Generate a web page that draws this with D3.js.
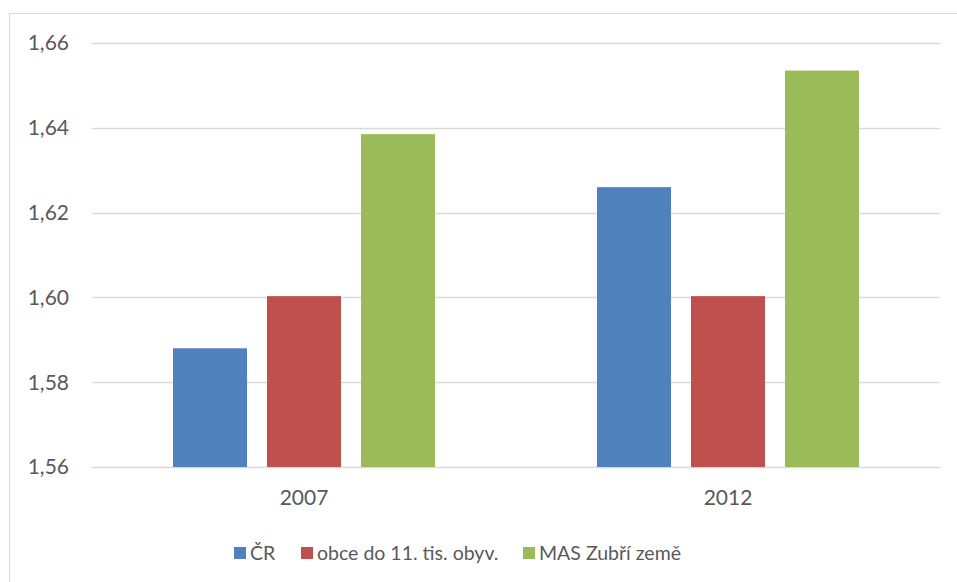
<!DOCTYPE html>
<html>
<head>
<meta charset="utf-8">
<script src="https://cdn.jsdelivr.net/npm/d3@7"></script>
<style>
  body { margin: 0; background: #fff; }
  svg text { font-family: Lato, "Open Sans", sans-serif; fill: #595959; }
</style>
</head>
<body>
<svg id="chart"></svg>
<script>
// data
const years = ['2007', '2012']
const seriesNames = ['ČR', 'obce do 11. tis. obyv.', 'MAS Zubří země']
const valuesCR = [1.588, 1.626]
const valuesObce = [1.6003, 1.6003]
const valuesMAS = [1.6385, 1.6535]
const yTicks = [1.56, 1.58, 1.60, 1.62, 1.64, 1.66]
const colors = ['#4F81BD', '#C0504D', '#9BBB59']

const width = 957
const height = 582
const margin = { top: 43, right: 17, bottom: 115, left: 92 }

const svg = d3.select('#chart')
    .attr('width', width)
    .attr('height', height)

// chart frame (cut off on the right and at the bottom)
svg.append('rect')
    .attr('x', 9.5).attr('y', 13.5)
    .attr('width', 1000).attr('height', 1000)
    .attr('fill', 'none')
    .attr('stroke', '#D9D9D9')

const x0 = d3.scaleBand()
    .domain(years)
    .range([margin.left, width - margin.right])

const x1 = d3.scaleBand()
    .domain(seriesNames)
    .range([81, 424 - 81])
    .paddingInner(20 / 94)

const y = d3.scaleLinear()
    .domain([1.56, 1.66])
    .range([height - margin.bottom, margin.top])

const fmt = d => d3.format('.2f')(d).replace('.', ',')

// grid
svg.append('g')
    .selectAll('line')
    .data(yTicks)
    .join('line')
    .attr('x1', margin.left)
    .attr('x2', width - margin.right)
    .attr('y1', d => Math.round(y(d)) + 0.5)
    .attr('y2', d => Math.round(y(d)) + 0.5)
    .attr('stroke', '#D9D9D9')
    .attr('stroke-width', 1.5)

// y labels
svg.append('g')
    .selectAll('text')
    .data(yTicks)
    .join('text')
    .attr('x', 69)
    .attr('y', d => y(d))
    .attr('dy', '0.35em')
    .attr('text-anchor', 'end')
    .style('font-size', '21px')
    .text(fmt)

const series = [valuesCR, valuesObce, valuesMAS]
const rows = years.map((yr, i) => ({
    year: yr,
    vals: seriesNames.map((s, j) => ({ name: s, value: series[j][i], color: colors[j] }))
}))

const groups = svg.append('g')
    .selectAll('g')
    .data(rows)
    .join('g')
    .attr('transform', d => `translate(${x0(d.year)},0)`)

groups.selectAll('rect')
    .data(d => d.vals)
    .join('rect')
    .attr('x', d => x1(d.name))
    .attr('width', x1.bandwidth())
    .attr('y', d => y(d.value))
    .attr('height', d => y(1.56) - y(d.value))
    .attr('fill', d => d.color)

// x labels
svg.append('g')
    .selectAll('text')
    .data(years)
    .join('text')
    .attr('x', d => x0(d) + x0.bandwidth() / 2)
    .attr('y', 505)
    .attr('text-anchor', 'middle')
    .style('font-size', '21px')
    .text(d => d)

// legend
const legendX = [234, 301, 523]
const legend = svg.append('g')
    .selectAll('g')
    .data(seriesNames)
    .join('g')
    .attr('transform', (d, i) => `translate(${legendX[i]},547)`)

legend.append('rect')
    .attr('width', 12)
    .attr('height', 12)
    .attr('fill', (d, i) => colors[i])

legend.append('text')
    .attr('x', 16)
    .attr('y', 6)
    .attr('dy', '0.35em')
    .style('font-size', '19.5px')
    .text(d => d)
</script>
</body>
</html>
